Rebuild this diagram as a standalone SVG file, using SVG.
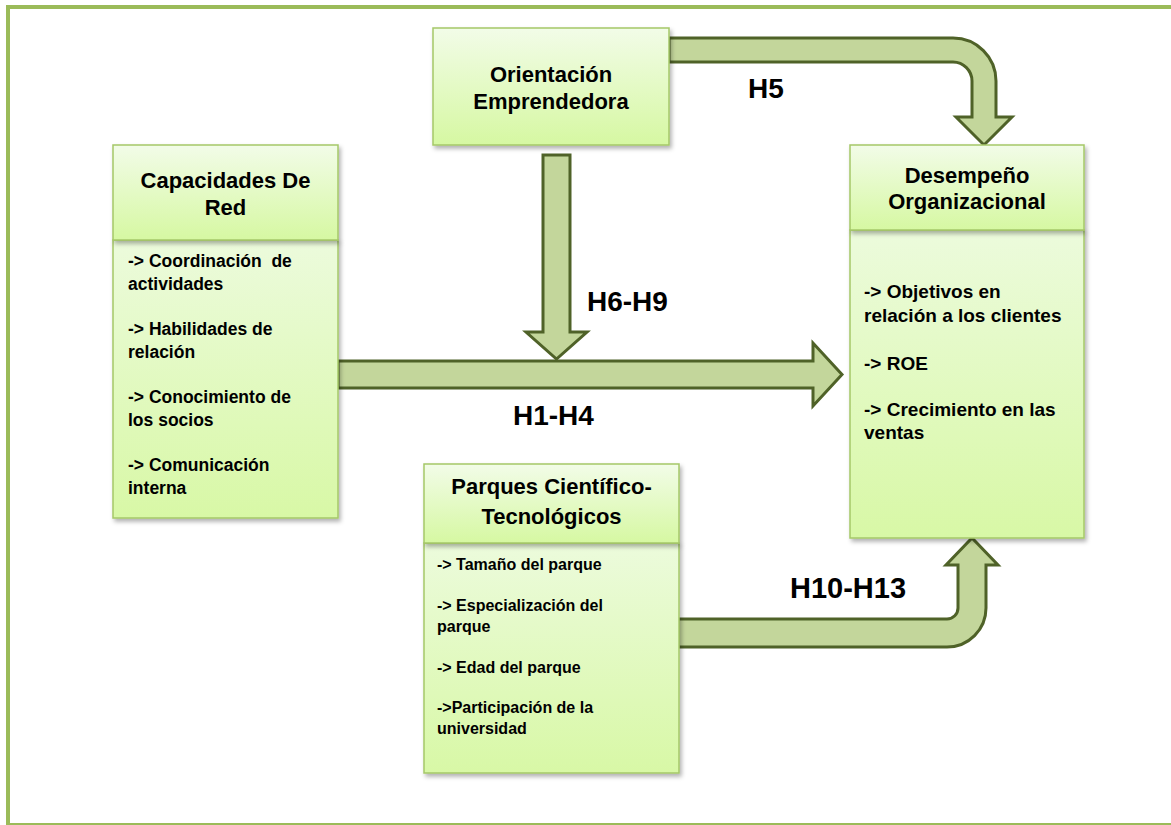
<svg xmlns="http://www.w3.org/2000/svg" width="1171" height="825" viewBox="0 0 1171 825">
<defs>
<linearGradient id="gHead" x1="0" y1="0" x2="0" y2="1">
<stop offset="0" stop-color="#f2fce8"/>
<stop offset="1" stop-color="#d6f8a2"/>
</linearGradient>
<linearGradient id="gBody" x1="0" y1="0" x2="0" y2="1">
<stop offset="0" stop-color="#ecfbdc"/>
<stop offset="1" stop-color="#d8f8a6"/>
</linearGradient>
<filter id="sh" x="-10%" y="-10%" width="125%" height="125%">
<feDropShadow dx="2" dy="3" stdDeviation="2" flood-color="#000" flood-opacity="0.3"/>
</filter>
<style>
.hd{fill:url(#gHead);stroke:#a5c868;stroke-width:1.5;filter:url(#sh)}
.bd{fill:url(#gBody);stroke:#a5c868;stroke-width:1.5;filter:url(#sh)}
.ht{font-family:"Liberation Sans",Arial,sans-serif;font-weight:bold;font-size:22px;fill:#000;text-anchor:middle}
.bt{font-family:"Liberation Sans",Arial,sans-serif;font-weight:bold;fill:#000}
.arr{fill:#c3d69b;stroke:#4f6228;stroke-width:3;stroke-linejoin:miter}
.lbl{font-family:"Liberation Sans",Arial,sans-serif;font-weight:bold;font-size:28px;fill:#000}
</style>
</defs>
<rect width="1171" height="825" fill="#fff"/>
<rect id="frame" x="8" y="7" width="1175" height="818" fill="none" stroke="#9bbb59" stroke-width="4"/>

<g id="connectors">
<path id="a-h5" class="arr" d="M669 38 H953 A43 43 0 0 1 996 81 V117 H1012 L984 145 L956 117 H972 V81 A19 19 0 0 0 953 62 H669 Z"/>
<path id="a-h6h9" class="arr" d="M543 155 H570 V332 H587 L556.5 359 L526 332 H543 Z"/>
<path id="a-h1h4" class="arr" d="M338 361 H813 V343 L842 374.5 L813 406 V388 H338 Z"/>
<path id="a-h10h13" class="arr" d="M678 619 H947 A11 11 0 0 0 958 608 V565 H946 L972 538 L998 565 H986 V608 A39 39 0 0 1 947 647 H678 Z"/>
<text class="lbl" x="748" y="98">H5</text>
<text class="lbl" x="587" y="311">H6-H9</text>
<text class="lbl" x="513" y="425">H1-H4</text>
<text class="lbl" x="790" y="598" style="font-size:29px">H10-H13</text>
</g>

<g id="orientacion">
<rect class="hd" x="433" y="28" width="236" height="117"/>
<text class="ht" x="551" y="82">Orientación</text>
<text class="ht" x="551" y="109">Emprendedora</text>
</g>

<g id="capacidades">
<rect class="bd" x="113" y="240" width="225" height="278"/>
<rect class="hd" x="113" y="145" width="225" height="95"/>
<text class="ht" x="225.5" y="188">Capacidades De</text>
<text class="ht" x="225.5" y="215">Red</text>
<g class="bt" font-size="17.5">
<text x="128" y="267" xml:space="preserve">-&gt; Coordinación  de</text>
<text x="128" y="290">actividades</text>
<text x="128" y="335">-&gt; Habilidades de</text>
<text x="128" y="358">relación</text>
<text x="128" y="403">-&gt; Conocimiento de</text>
<text x="128" y="426">los socios</text>
<text x="128" y="471">-&gt; Comunicación</text>
<text x="128" y="494">interna</text>
</g>
</g>

<g id="desempeno">
<rect class="bd" x="850" y="230" width="234" height="308"/>
<rect class="hd" x="850" y="145" width="234" height="85"/>
<text class="ht" x="967" y="183">Desempeño</text>
<text class="ht" x="967" y="209">Organizacional</text>
<g class="bt" font-size="19">
<text x="864" y="298">-&gt; Objetivos en</text>
<text x="864" y="322">relación a los clientes</text>
<text x="864" y="370">-&gt; ROE</text>
<text x="864" y="416">-&gt; Crecimiento en las</text>
<text x="864" y="439">ventas</text>
</g>
</g>

<g id="parques">
<rect class="bd" x="424" y="543" width="255" height="230"/>
<rect class="hd" x="424" y="464" width="255" height="79"/>
<text class="ht" x="551.5" y="494">Parques Científico-</text>
<text class="ht" x="551.5" y="524">Tecnológicos</text>
<g class="bt" font-size="16">
<text x="437" y="570">-&gt; Tamaño del parque</text>
<text x="437" y="611">-&gt; Especialización del</text>
<text x="437" y="632">parque</text>
<text x="437" y="673">-&gt; Edad del parque</text>
<text x="437" y="713">-&gt;Participación de la</text>
<text x="437" y="734">universidad</text>
</g>
</g>
</svg>
